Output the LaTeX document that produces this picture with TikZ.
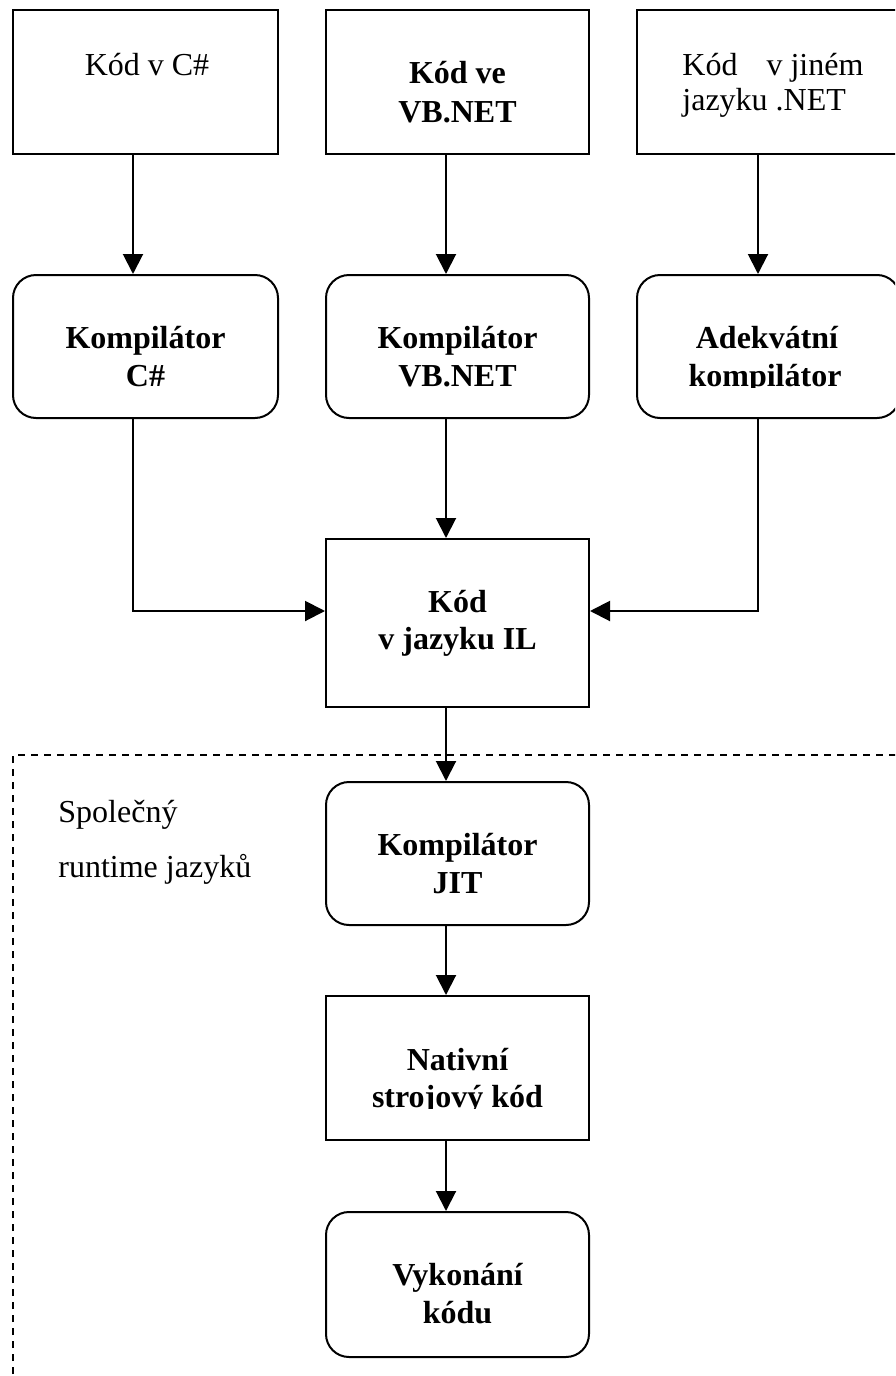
\documentclass[tikz,border=0pt]{standalone}
\usepackage{fontspec}
\setmainfont{Liberation Serif}
\usetikzlibrary{arrows.meta}
\tikzset{
  boxr/.style={draw, line width=1pt, rectangle, inner sep=0pt},
  boxrr/.style={boxr, rounded corners=11.5pt},
  ln/.style={inner sep=0pt, anchor=base, font=\fontsize{16}{19}\selectfont},
  lnb/.style={inner sep=0pt, anchor=base, font=\fontsize{16}{19}\selectfont\bfseries},
  lnl/.style={inner sep=0pt, anchor=base west, font=\fontsize{16}{19}\selectfont},
  arr/.style={line width=1pt, -{Triangle[length=10pt,width=10pt]}},
  clr/.style={dash pattern=on 3.5pt off 3pt, line width=0.75pt}
}
\begin{document}
\begin{tikzpicture}[x=0.5pt, y=-0.5pt]
\useasboundingbox (0,0) rectangle (895,1376);
\clip (0,0) rectangle (895,1376);

% column coordinates
\coordinate (xa) at (133,0);
\coordinate (xb) at (446,0);
\coordinate (xc) at (758,0);
\coordinate (yj) at (0,611);

% boxes
\node[boxr,  minimum width=132.5pt, minimum height=72pt]   (c1)  at (145.5,82) {};
\node[boxr,  minimum width=131.5pt, minimum height=72pt]   (c2)  at (457.5,82) {};
\node[boxr,  minimum width=131.5pt, minimum height=72pt]   (c3)  at (768.5,82) {};
\node[boxrr, minimum width=132.5pt, minimum height=71.5pt] (k1)  at (145.5,346.5) {};
\node[boxrr, minimum width=131.5pt, minimum height=71.5pt] (k2)  at (457.5,346.5) {};
\node[boxrr, minimum width=131.5pt, minimum height=71.5pt] (k3)  at (768.5,346.5) {};
\node[boxr,  minimum width=131.5pt, minimum height=84pt]   (il)  at (457.5,623) {};
\node[boxrr, minimum width=131.5pt, minimum height=71.5pt] (jit) at (457.5,853.5) {};
\node[boxr,  minimum width=131.5pt, minimum height=72pt]   (nat) at (457.5,1068) {};
\node[boxrr, minimum width=131.5pt, minimum height=72.5pt] (vyk) at (457.5,1284.5) {};

% texts
\node[ln]  (t1)  at (147,75)    {Kód v C\#};
\node[lnb] (t2a) at (457.5,83)  {Kód ve};
\node[lnb] (t2b) at (457.5,122) {VB.NET};
\node[lnl] (t3a) at (682,75)    {Kód\hspace{14.5pt}v jiném};
\node[lnl] (t3b) at (682,110)   {jazyku .NET};
\node[lnb] (t4a) at (145.5,348) {Kompilátor};
\node[lnb] (t4b) at (145.5,386) {C\#};
\node[lnb] (t5a) at (457.5,348) {Kompilátor};
\node[lnb] (t5b) at (457.5,386) {VB.NET};
\node[lnb] (t6a) at (767,348)   {Adekvátní};
\begin{scope}
  \clip (640,360) rectangle (895,387.5);
  \node[lnb] (t6b) at (765,386) {kompilátor};
\end{scope}
\node[lnb] (t7a) at (457.5,612) {Kód};
\node[lnb] (t7b) at (457.5,649) {v jazyku IL};
\node[lnl] (t8a) at (58,822)    {Společný};
\node[lnl] (t8b) at (58,877)    {runtime jazyků};
\node[lnb] (t9a) at (457.5,855) {Kompilátor};
\node[lnb] (t9b) at (457.5,893) {JIT};
\node[lnb] (t10a) at (457.5,1070) {Nativní};
\begin{scope}
  \clip (330,1075) rectangle (585,1108.5);
  \node[lnb] (t10b) at (457.5,1107) {strojový kód};
\end{scope}
\node[lnb] (t11a) at (457.5,1285) {Vykonání};
\node[lnb] (t11b) at (457.5,1323) {kódu};

% dashed region
\coordinate (d1) at (13,1400);
\coordinate (d2) at (13,755);
\coordinate (d3) at (920,755);
\draw[clr] (d1) -- (d2) -- (d3);

% connectors
\draw[arr] (c1.south -| xa) -- (k1.north -| xa);
\draw[arr] (c2.south -| xb) -- (k2.north -| xb);
\draw[arr] (c3.south -| xc) -- (k3.north -| xc);
\draw[arr] (k2.south -| xb) -- (il.north -| xb);
\draw[arr] (k1.south -| xa) |- (il.west |- yj);
\draw[arr] (k3.south -| xc) |- (il.east |- yj);
\draw[arr] (il.south -| xb) -- (jit.north -| xb);
\draw[arr] (jit.south -| xb) -- (nat.north -| xb);
\draw[arr] (nat.south -| xb) -- (vyk.north -| xb);
\end{tikzpicture}
\end{document}
